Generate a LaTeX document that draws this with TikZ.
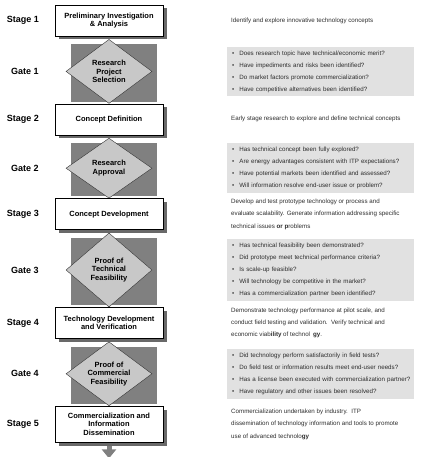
\documentclass[tikz,border=0pt]{standalone}
\usepackage{fontspec}
\setmainfont{Liberation Sans}
\usetikzlibrary{positioning,shapes,shadows,arrows.meta,backgrounds}
\definecolor{gateback}{RGB}{128,128,128}
\definecolor{gatefill}{RGB}{200,200,200}
\definecolor{qfill}{RGB}{225,225,225}
\definecolor{boxshadow}{RGB}{105,105,105}
\definecolor{notegray}{RGB}{45,45,45}
\tikzstyle{stage}=[rectangle, draw=black, fill=white, drop shadow={shadow xshift=3.5pt, shadow yshift=-3.5pt, fill=boxshadow, opacity=1},
        align=center, minimum width=108pt, minimum height=31pt, inner sep=1pt, font=\fontsize{7.5}{8.5}\selectfont\bfseries]
\tikzstyle{gate}=[diamond, draw=black!80, fill=gatefill, aspect=1.4, minimum width=86pt, inner sep=0pt,
        align=center, font=\fontsize{7.5}{8.5}\selectfont\bfseries]
\tikzstyle{tag}=[font=\fontsize{9}{10}\selectfont\bfseries]
\tikzstyle{note}=[anchor=west, align=left, text=notegray, inner sep=0pt, font=\fontsize{6.2}{12.3}\selectfont]
\tikzstyle{checks}=[anchor=west, align=left, fill=qfill, text=notegray, text width=177pt, inner xsep=5pt, inner ysep=4pt,
        font=\fontsize{6.2}{12}\selectfont]
\tikzstyle{outflow}=[draw=gateback, line width=5pt, -{Triangle[width=14pt,length=9pt]}]
\newcommand{\q}{\textbullet\hspace{5pt}}

\begin{document}
\begin{tikzpicture}[x=1pt, y=1pt, node distance=3pt]
        \useasboundingbox (0,0) rectangle (422,-457);
        \coordinate (stagex) at (23,0);
        \coordinate (gatex) at (25,0);
        \coordinate (notex) at (231,0);
        \coordinate (boxx) at (227,0);

        % stages and gates, top to bottom
        \node (s1) [stage] at (109,-20.5) {Preliminary Investigation\\\& Analysis};
        \node (g1) [gate, minimum height=64pt, below=of s1] {Research\\Project\\Selection};
        \node (s2) [stage, below=0pt of g1] {Concept Definition};
        \node (g2) [gate, minimum height=60pt, below=of s2] {Research\\Approval};
        \node (s3) [stage, below=0pt of g2] {Concept Development};
        \node (g3) [gate, minimum height=74pt, below=of s3] {Proof of\\Technical\\Feasibility};
        \node (s4) [stage, below=0pt of g3] {Technology Development\\and Verification};
        \node (g4) [gate, minimum height=64pt, below=of s4] {Proof of\\Commercial\\Feasibility};
        \node (s5) [stage, minimum height=36pt, below=0pt of g4] {Commercialization and\\Information\\Dissemination};
        \coordinate [below=16pt of s5.south] (out);

        \begin{pgfonlayer}{background}
          \foreach \g in {g1,g2,g3,g4}
            \fill[gateback] ([xshift=5pt,yshift=-5pt]\g.west |- \g.north) rectangle ([xshift=5pt,yshift=2pt]\g.east |- \g.south);
          \draw[outflow] (s5) -- (out);
        \end{pgfonlayer}

        % labels on the left
        \node (t1) [tag] at (s1 -| stagex) {Stage 1};
        \node (h1) [tag] at (g1 -| gatex) {Gate 1};
        \node (t2) [tag] at (s2 -| stagex) {Stage 2};
        \node (h2) [tag] at (g2 -| gatex) {Gate 2};
        \node (t3) [tag] at (s3 -| stagex) {Stage 3};
        \node (h3) [tag] at (g3 -| gatex) {Gate 3};
        \node (t4) [tag] at (s4 -| stagex) {Stage 4};
        \node (h4) [tag] at (g4 -| gatex) {Gate 4};
        \node (t5) [tag] at (s5 -| stagex) {Stage 5};

        % descriptions on the right
        \node (d1) [note] at (s1 -| notex) {Identify and explore innovative technology concepts};
        \node (d2) [note] at (s2 -| notex) {Early stage research to explore and define technical concepts};
        \node (d3) [note] at (s3 -| notex) {Develop and test prototype technology or process and\\
          evaluate scalability. Generate information addressing specific\\
          technical issues \textbf{or} \textbf{p}roblems};
        \node (d4) [note] at (s4 -| notex) {Demonstrate technology performance at pilot scale, and\\
          conduct field testing and validation.\ \ Verify technical and\\
          economic viab\textbf{ility} of technol\hspace{3pt}\textbf{gy}.};
        \node (d5) [note] at (s5 -| notex) {Commercialization undertaken by industry.\ \ ITP\\
          dissemination of technology information and tools to promote\\
          use of advanced technolo\textbf{gy}};

        % gate questions
        \node (c1) [checks] at (g1 -| boxx) {\q Does research topic have technical/economic merit?\\
          \q Have impediments and risks been identified?\\
          \q Do market factors promote commercialization?\\
          \q Have competitive alternatives been identified?};
        \node (c2) [checks] at (g2 -| boxx) {\q Has technical concept been fully explored?\\
          \q Are energy advantages consistent with ITP expectations?\\
          \q Have potential markets been identified and assessed?\\
          \q Will information resolve end-user issue or problem?};
        \node (c3) [checks] at (g3 -| boxx) {\q Has technical feasibility been demonstrated?\\
          \q Did prototype meet technical performance criteria?\\
          \q Is scale-up feasible?\\
          \q Will technology be competitive in the market?\\
          \q Has a commercialization partner been identified?};
        \node (c4) [checks] at (g4 -| boxx) {\q Did technology perform satisfactorily in field tests?\\
          \q Do field test or information results meet end-user needs?\\
          \makebox[177pt][l]{\q Has a license been executed with commercialization partner?}\\
          \q Have regulatory and other issues been resolved?};
\end{tikzpicture}
\end{document}
